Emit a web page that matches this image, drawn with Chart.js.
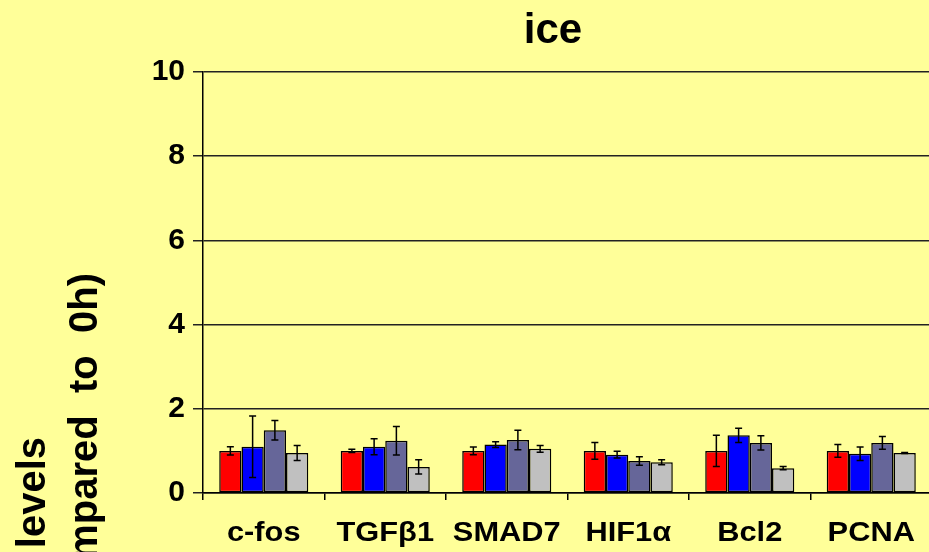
<!DOCTYPE html>
<html>
<head>
<meta charset="utf-8">
<script src="https://cdn.jsdelivr.net/npm/chart.js@4"></script>
<style>
    html, body { margin: 0; padding: 0; background: #FFFF99; overflow: hidden; }
    #wrap { width: 929px; height: 552px; overflow: hidden; }
</style>
</head>
<body>
<div id="wrap"><canvas id="geneChart" width="933" height="552"></canvas></div>
<script>
const genes = ['c-fos', 'TGFβ1', 'SMAD7', 'HIF1α', 'Bcl2', 'PCNA'];
const yTicks = [0, 2, 4, 6, 8, 10];

const redVals   = [1.00, 1.00, 1.00, 1.00, 1.00, 1.00];
const redErr    = [0.10, 0.04, 0.09, 0.20, 0.37, 0.15];
const blueVals  = [1.10, 1.10, 1.15, 0.91, 1.37, 0.93];
const blueErr   = [0.73, 0.19, 0.07, 0.08, 0.17, 0.16];
const slateVals = [1.49, 1.24, 1.26, 0.76, 1.19, 1.19];
const slateErr  = [0.23, 0.34, 0.23, 0.10, 0.17, 0.15];
const greyVals  = [0.95, 0.62, 1.05, 0.73, 0.59, 0.95];
const greyErr   = [0.18, 0.17, 0.08, 0.06, 0.04, 0.01];

const FONT = "'Liberation Sans', Arial, sans-serif";

// error bars on top of each bar
const errorBars = {
    id: 'errorBars',
    afterDatasetsDraw(chart) {
        const ctx = chart.ctx;
        const y = chart.scales.y;
        ctx.save();
        ctx.strokeStyle = '#000';
        ctx.lineWidth = 1.5;
        chart.data.datasets.forEach((ds, i) => {
            const meta = chart.getDatasetMeta(i);
            meta.data.forEach((bar, j) => {
                const v = ds.data[j], e = ds.err[j];
                const top = y.getPixelForValue(v + e);
                const bot = y.getPixelForValue(v - e);
                ctx.beginPath();
                ctx.moveTo(bar.x, top); ctx.lineTo(bar.x, bot);
                ctx.moveTo(bar.x - 3.5, top); ctx.lineTo(bar.x + 3.5, top);
                ctx.moveTo(bar.x - 3.5, bot); ctx.lineTo(bar.x + 3.5, bot);
                ctx.stroke();
            });
        });
        ctx.restore();
    }
};

// title, category labels and the two-line y-axis title
const labels = {
    id: 'labels',
    afterDraw(chart) {
        const ctx = chart.ctx;
        const x = chart.scales.x;
        ctx.save();
        ctx.fillStyle = '#000';
        ctx.font = 'bold 42px ' + FONT;
        ctx.textAlign = 'center';
        ctx.textBaseline = 'alphabetic';
        ctx.fillText('ice', 553, 43);

        // category names, slightly widened
        ctx.font = 'bold 28px ' + FONT;
        genes.forEach((g, i) => {
            ctx.save();
            ctx.translate(x.getPixelForValue(i), 541);
            ctx.scale(1.1, 1);
            ctx.fillText(g, 0, 0);
            ctx.restore();
        });

        ctx.font = 'bold 40px ' + FONT;
        ctx.textAlign = 'right';
        [['mRNA levels', 45, 437], ['(compared  to  0h)', 97, 273]].forEach(([t, px, py]) => {
            ctx.save();
            ctx.translate(px, py);
            ctx.rotate(-Math.PI / 2);
            ctx.fillText(t, 0, 0);
            ctx.restore();
        });
        ctx.restore();
    }
};

new Chart(document.getElementById('geneChart').getContext('2d'), {
    type: 'bar',
    data: {
        labels: genes,
        datasets: [
            { label: 'red', data: redVals, err: redErr, backgroundColor: '#FF0000' },
            { label: 'blue', data: blueVals, err: blueErr, backgroundColor: '#0000FF' },
            { label: 'slate', data: slateVals, err: slateErr, backgroundColor: '#666699' },
            { label: 'grey', data: greyVals, err: greyErr, backgroundColor: '#C0C0C0' }
        ].map(d => Object.assign(d, {
            borderColor: '#000',
            borderWidth: 1.5,
            borderSkipped: false,
            categoryPercentage: 0.733,
            barPercentage: 1.0
        }))
    },
    options: {
        responsive: false,
        animation: false,
        layout: { padding: { top: 72, right: 1, bottom: 0, left: 0 } },
        plugins: {
            legend: { display: false },
            tooltip: { enabled: false }
        },
        scales: {
            x: {
                afterFit: s => { s.height = 59; },
                grid: { offset: true, drawOnChartArea: false, color: '#000', lineWidth: 1.5, tickLength: 7 },
                border: { color: '#000', width: 1.5 },
                ticks: { display: false }
            },
            y: {
                min: 0,
                max: 10,
                afterFit: s => { s.width = 203; },
                afterBuildTicks: s => { s.ticks = yTicks.map(v => ({ value: v })); },
                grid: { color: '#222', lineWidth: 1.5, tickLength: 10 },
                border: { color: '#000', width: 1.5 },
                ticks: { color: '#000', padding: 8, font: { family: FONT, size: 30, weight: 'bold' } }
            }
        }
    },
    plugins: [errorBars, labels]
});
</script>
</body>
</html>
